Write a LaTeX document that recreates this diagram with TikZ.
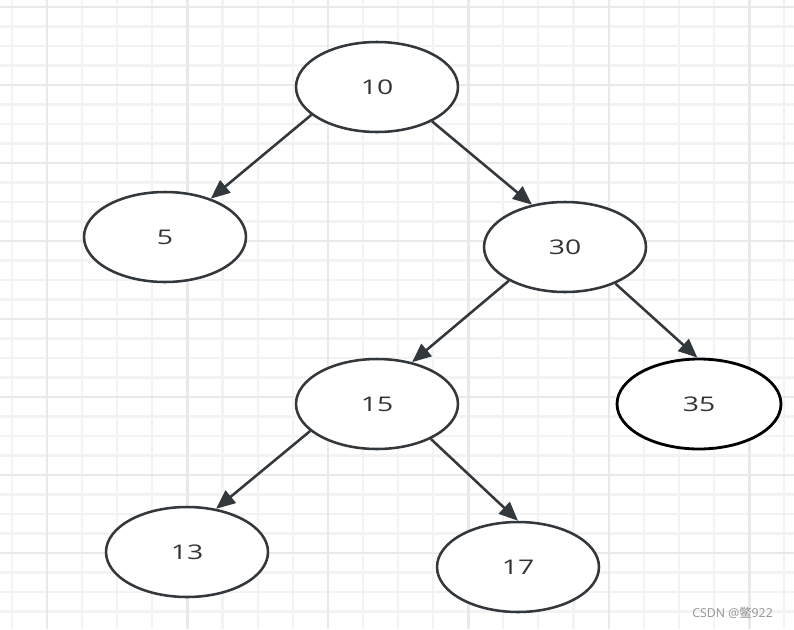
\documentclass[tikz,border=0pt]{standalone}
\usepackage{fontspec}
\setmainfont{Open Sans}
\newfontfamily\keyfont[FakeStretch=1.4]{Open Sans}
\newfontfamily\cjk{Noto Sans CJK SC}
\usetikzlibrary{shapes.geometric,arrows.meta}
\definecolor{gridminor}{HTML}{F3F3F3}
\definecolor{gridmajor}{HTML}{E9E9E9}
\definecolor{inkgray}{HTML}{33383D}
\definecolor{textgray}{HTML}{333333}

\begin{document}
\begin{tikzpicture}[x=0.02cm, y=-0.02cm,
    keynode/.style={ellipse, draw=inkgray, line width=1.45pt, fill=white,
        minimum width=3.24cm, minimum height=1.8cm, inner sep=0pt,
        text=textgray, font=\keyfont\fontsize{11.5}{13}\selectfont},
    edge/.style={draw=inkgray, line width=1.45pt,
        -{Triangle[length=0.38cm, width=0.32cm]}}]
    \useasboundingbox (0,0) rectangle (794,629);
    \fill[white] (0,0) rectangle (794,629);

    % Grid
    \foreach \i in {0,...,22} {
        \draw[gridminor, line width=1.2pt] ({11.9+35.1*\i},0) -- ({11.9+35.1*\i},629);
    }
    \foreach \i in {0,...,32} {
        \draw[gridminor, line width=1.2pt] (0,{7+19.5*\i}) -- (794,{7+19.5*\i});
    }
    \foreach \i in {0,...,5} {
        \draw[gridmajor, line width=1.2pt] ({47+140.5*\i},0) -- ({47+140.5*\i},629);
    }
    \foreach \i in {0,...,8} {
        \draw[gridmajor, line width=1.2pt] (0,{7+78*\i}) -- (794,{7+78*\i});
    }

    % Nodes
    \node[keynode] (n10) at (377,87) {10};
    \node[keynode] (n5) at (165,237) {5};
    \node[keynode] (n30) at (565,247) {30};
    \node[keynode] (n15) at (377,404) {15};
    \node[keynode, draw=black, line width=1.6pt, minimum width=3.28cm] (n35) at (699,404) {35};
    \node[keynode] (n13) at (187,552) {13};
    \node[keynode] (n17) at (518,567) {17};

    % Edges
    \draw[edge] (n10.203) -- (n5.40);
    \draw[edge] (n10.-32) -- (n30.128);
    \draw[edge] (n30.211) -- (n15.50);
    \draw[edge] (n30.-36) -- (n35.92);
    \draw[edge] (n15.202) -- (n13.56);
    \draw[edge] (n15.-33) -- (n17.90);

    % Watermark
    \node[anchor=east, text=gray!85, font=\fontsize{7}{8}\selectfont] (mark) at (779,613) {CSDN @{\cjk 鳖}922};
\end{tikzpicture}
\end{document}
